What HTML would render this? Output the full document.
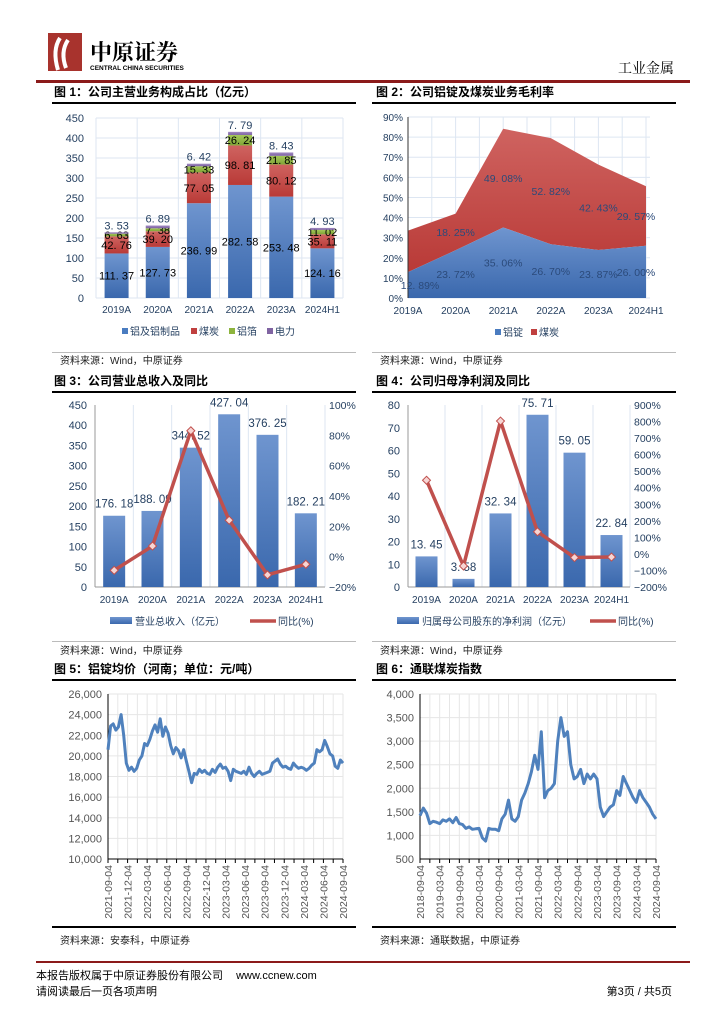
<!DOCTYPE html>
<html><head><meta charset="utf-8"><style>
html,body{margin:0;padding:0;background:#fff}
body{width:724px;height:1024px;position:relative;overflow:hidden;font-family:"Liberation Sans","Noto Sans CJK SC",sans-serif}
svg{position:absolute;left:0;top:0}
</style></head><body>
<svg id="pg" width="724" height="1024" viewBox="0 0 724 1024" xmlns="http://www.w3.org/2000/svg">
<defs>
<linearGradient id="gb" x1="0" y1="0" x2="0" y2="1"><stop offset="0" stop-color="#6f95cf"/><stop offset="1" stop-color="#3a68ad"/></linearGradient>
<linearGradient id="gr" x1="0" y1="0" x2="0" y2="1"><stop offset="0" stop-color="#cf6360"/><stop offset="1" stop-color="#b93a37"/></linearGradient>
<linearGradient id="gg" x1="0" y1="0" x2="0" y2="1"><stop offset="0" stop-color="#a5c85a"/><stop offset="1" stop-color="#7fa535"/></linearGradient>
<linearGradient id="gp" x1="0" y1="0" x2="0" y2="1"><stop offset="0" stop-color="#a48cc4"/><stop offset="1" stop-color="#7a5fa0"/></linearGradient>
</defs>
<g>
<rect x="48" y="33" width="34" height="38" fill="#a8332d"/>
<path d="M60 38 Q52 50 58 70 M68 40 Q60 52 66 68" stroke="#fff" stroke-width="4" fill="none"/>
<text x="90" y="60" font-size="22" font-weight="bold" font-family="'Noto Serif CJK SC',serif">中原证券</text>
<text x="90" y="70" font-size="6.5" font-weight="bold">CENTRAL CHINA SECURITIES</text>
<text x="674" y="73" font-size="14" text-anchor="end" font-family="'Noto Serif CJK SC',serif">工业金属</text>
<rect x="36" y="80" width="654" height="3" fill="#8b1a1a"/>
</g>
<g id="static" font-family="'Liberation Sans','Noto Sans CJK SC',sans-serif"></g>
<g>
<rect x="36" y="961" width="654" height="2" fill="#8b1a1a"/>
<text x="36" y="979" font-size="11">本报告版权属于中原证券股份有限公司 <tspan dx="10">www.ccnew.com</tspan></text>
<text x="36" y="995" font-size="11">请阅读最后一页各项声明</text>
<text x="672" y="995" font-size="11" text-anchor="end">第3页 / 共5页</text>
</g>
</svg>
<script>
var NS='http://www.w3.org/2000/svg',pg=document.getElementById('pg');
function mk(t,a,p){var e=document.createElementNS(NS,t);for(var k in a)e.setAttribute(k,a[k]);(p||pg).appendChild(e);return e;}
function tx(s,x,y,o,p){var e=mk('text',Object.assign({x:x,y:y,'font-size':11,fill:'#333'},o||{}),p);e.textContent=s;return e;}
var el;
var titles=[[54,96,'图 1：公司主营业务构成占比（亿元）'],[376,96,'图 2：公司铝锭及煤炭业务毛利率'],[54,385,'图 3：公司营业总收入及同比'],[376,385,'图 4：公司归母净利润及同比'],[54,673,'图 5：铝锭均价（河南；单位：元/吨）'],[376,673,'图 6：通联煤炭指数']];
titles.forEach(function(t){
el=tx(t[2],t[0],t[1],{'font-size':12,'font-weight':'bold',fill:'#000'});


var x0=t[0]<200?52:372;
el=mk('rect',{x:x0,y:t[1]+6,width:304,height:2,fill:'#000'});


});
var srcs=[[52,352,360,'资料来源：Wind，中原证券'],[372,352,360,'资料来源：Wind，中原证券'],[52,641,650,'资料来源：Wind，中原证券'],[372,641,650,'资料来源：Wind，中原证券'],[52,926,940,'资料来源：安泰科，中原证券'],[372,926,940,'资料来源：通联数据，中原证券']];
srcs.forEach(function(s){
el=mk('rect',{x:s[0],y:s[1],width:304,height:s[1]>900?2:1,fill:s[1]>900?'#000':'#bbb'});


el=tx(s[3],s[0]+8,s[2]+4,{'font-size':10,fill:'#222'});


});
var AX='#243f60';
var c1Cats=['2019A','2020A','2021A','2022A','2023A','2024H1'];
var c1Alu=[111.37,127.73,236.99,282.58,253.48,124.16];
var c1Coal=[42.76,39.20,77.05,98.81,80.12,35.11];
var c1Foil=[6.63,7.38,15.33,26.24,21.85,11.02];
var c1Power=[3.53,6.89,6.42,7.79,8.43,4.93];
var c1Ticks=[0,50,100,150,200,250,300,350,400,450];
(function(){
var L=96,R=343,T=118,B=298,max=450,n=c1Cats.length,w=(R-L)/n;
function y(v){return B-v/max*(B-T);} function cx(i){return L+w*(i+.5);}
c1Ticks.forEach(function(t){el=mk('line',{x1:L,x2:R,y1:y(t),y2:y(t),stroke:'#dde6f2'});
el=tx(t,L-12,y(t)+4,{'text-anchor':'end',fill:AX});});
for(var i=0;i<=n;i++){el=mk('line',{x1:L+w*i,x2:L+w*i,y1:T,y2:B,stroke:'#dde6f2'});}
var ser=[[c1Alu,'url(#gb)','bar-aluminum','#000'],[c1Coal,'url(#gr)','bar-coal','#000'],[c1Foil,'url(#gg)','bar-foil','#000'],[c1Power,'url(#gp)','bar-power',AX]];
c1Cats.forEach(function(c,i){var base=0;
ser.forEach(function(s,k){var v=s[0][i];
el=mk('rect',{x:cx(i)-12,y:y(base+v),width:24,height:y(base)-y(base+v),fill:s[1]});
var ly=k==3?y(base+v)-3:y(base+v/2)+4;
el=tx(v.toFixed(2).replace('.','. '),cx(i),ly,{'text-anchor':'middle',fill:s[3],'font-size':11});
base+=v;});
el=tx(c,cx(i),313,{'text-anchor':'middle',fill:AX,'font-size':10});
});
var lg=[['铝及铝制品','#4a7cc0'],['煤炭','#c0403f'],['铝箔','#8db43e'],['电力','#8064a2']],lx=[122,191,229,267];
lg.forEach(function(g,i){el=mk('rect',{x:lx[i],y:328,width:6,height:6,fill:g[1]});
el=tx(g[0],lx[i]+8,335,{'font-size':10,fill:AX});});
})();
var c2Cats=['2019A','2020A','2021A','2022A','2023A','2024H1'];
var c2Alu=[12.89,23.72,35.06,26.70,23.87,26.00];
var c2Coal=[20.6,18.25,49.08,52.82,42.43,29.57];
var c2Ticks=[0,10,20,30,40,50,60,70,80,90];
(function(){
var L=408,R=646,T=117,B=298,max=90,n=c2Cats.length;
function y(v){return B-v/max*(B-T);} function x(i){return L+i*(R-L)/(n-1);}
c2Ticks.forEach(function(t){el=mk('line',{x1:L,x2:R+4,y1:y(t),y2:y(t),stroke:'#dde6f2'});
el=tx(t+'%',L-5,y(t)+4,{'text-anchor':'end',fill:AX,'font-size':10});});
for(var i=0;i<n*2-1;i++){var gx=L+i*(R-L)/(2*(n-1));el=mk('line',{x1:gx,x2:gx,y1:T,y2:B,stroke:'#dde6f2'});}
var top='',mid='',midR='';
c2Cats.forEach(function(c,i){top+=(i?'L':'M')+x(i)+' '+y(c2Alu[i]+c2Coal[i]);mid+=(i?'L':'M')+x(i)+' '+y(c2Alu[i]);});
for(var j=n-1;j>=0;j--)midR+='L'+x(j)+' '+y(c2Alu[j]);
el=mk('path',{d:top+midR+'Z',fill:'url(#gr)'});
el=mk('path',{d:mid+'L'+R+' '+B+'L'+L+' '+B+'Z',fill:'url(#gb)'});
el=mk('line',{x1:L,x2:L,y1:T,y2:B,stroke:'#333'});
c2Cats.forEach(function(c,i){var xx=i==0?x(i)+12:(i==n-1?x(i)-10:x(i));
el=tx(c2Alu[i].toFixed(2).replace('.','. ')+'%',xx,y(c2Alu[i]/2)+4,{'text-anchor':'middle',fill:'#2b4a7a','font-size':10.5});
if(i>0){el=tx(c2Coal[i].toFixed(2).replace('.','. ')+'%',xx,y(c2Alu[i]+c2Coal[i]/2)+4,{'text-anchor':'middle',fill:'#2b4a7a','font-size':10.5});}
el=tx(c,x(i),314,{'text-anchor':'middle',fill:AX,'font-size':10});});
el=mk('rect',{x:495,y:329,width:6,height:6,fill:'#4a7cc0'});
el=tx('铝锭',503,336,{'font-size':10,fill:AX});
el=mk('rect',{x:531,y:329,width:6,height:6,fill:'#c0403f'});
el=tx('煤炭',539,336,{'font-size':10,fill:AX});
})();
function combo(o){
var L=o.L,R=o.R,T=405,B=587,n=o.cats.length,w=(R-L)/n;
function y(v){return B-(v-o.min)/(o.max-o.min)*(B-T);} function yr(p){return B-(p-o.rmin)/(o.rmax-o.rmin)*(B-T);} function cx(i){return L+w*(i+.5);}
o.ticks.forEach(function(t){el=tx(t,L-8,y(t)+4,{'text-anchor':'end',fill:AX,'font-size':11});});
o.rticks.forEach(function(t){el=tx((t<0?'−':'')+Math.abs(t)+'%',R+4,yr(t)+4,{fill:AX,'font-size':10.5});});
for(var i=0;i<=n;i++){el=mk('line',{x1:L+w*i,x2:L+w*i,y1:T,y2:B,stroke:'#dde6f2'});}
el=mk('line',{x1:L,x2:L,y1:T,y2:B,stroke:'#999'});
el=mk('line',{x1:L,x2:R,y1:B,y2:B,stroke:'#999'});
o.cats.forEach(function(c,i){var v=o.vals[i];
el=mk('rect',{x:cx(i)-11,y:y(v),width:22,height:B-y(v),fill:'url(#gb)'});
el=tx(v.toFixed(2).replace('.','. '),cx(i),y(v)-8,{'text-anchor':'middle',fill:AX,'font-size':11.5});
el=tx(c,cx(i),o.xly,{'text-anchor':'middle',fill:AX,'font-size':10});});
var d='';o.yoy.forEach(function(p,i){d+=(i?'L':'M')+cx(i)+' '+yr(p);});
el=mk('path',{d:d,fill:'none',stroke:'#c0504d','stroke-width':3.5,'stroke-linejoin':'round'});
o.yoy.forEach(function(p,i){el=mk('path',{d:'M'+cx(i)+' '+(yr(p)-4)+'l4 4l-4 4l-4 -4z',fill:'#f7d5d4',stroke:'#c0504d','stroke-width':1});});
el=mk('rect',{x:o.lg[0],y:617,width:22,height:7,fill:'url(#gb)'});
el=tx(o.lgText,o.lg[0]+25,625,{'font-size':10,fill:AX});
el=mk('line',{x1:o.lg[1],x2:o.lg[1]+26,y1:621,y2:621,stroke:'#c0504d','stroke-width':3.5});
el=tx('同比(%)',o.lg[1]+28,625,{'font-size':10,fill:AX});
}
var c3Cats=['2019A','2020A','2021A','2022A','2023A','2024H1'];
var c3Revenue=[176.18,188.09,344.52,427.04,376.25,182.21];
var c3Yoy=[-9,7,83,24,-12,-5];
var c3Ticks=[0,50,100,150,200,250,300,350,400,450];
var c3RTicks=[-20,0,20,40,60,80,100];
combo({L:95,R:325,cats:c3Cats,vals:c3Revenue,yoy:c3Yoy,ticks:c3Ticks,rticks:c3RTicks,min:0,max:450,rmin:-20,rmax:100,xly:603,lg:[110,250],lgText:'营业总收入（亿元）'});
var c4Cats=['2019A','2020A','2021A','2022A','2023A','2024H1'];
var c4Profit=[13.45,3.58,32.34,75.71,59.05,22.84];
var c4Yoy=[445,-73,803,134,-22,-19];
var c4Ticks=[0,10,20,30,40,50,60,70,80];
var c4RTicks=[-200,-100,0,100,200,300,400,500,600,700,800,900];
combo({L:408,R:630,cats:c4Cats,vals:c4Profit,yoy:c4Yoy,ticks:c4Ticks,rticks:c4RTicks,min:0,max:80,rmin:-200,rmax:900,xly:603,lg:[397,590],lgText:'归属母公司股东的净利润（亿元）'});
function ts(o){
var L=o.L,R=o.R,T=694,B=859;
function y(v){return B-(v-o.min)/(o.max-o.min)*(B-T);} function x(i){return L+i*(R-L)/(o.vals.length-1);}
o.ticks.forEach(function(t){el=mk('line',{x1:L,x2:R,y1:y(t),y2:y(t),stroke:'#e6e6e6'});
el=tx(t.toLocaleString('en-US'),L-6,y(t)+4,{'text-anchor':'end',fill:'#555','font-size':11});});
var nl=o.labels.length;
for(var i=0;i<nl*2-1;i++){var gx=L+i*(R-L)/(2*(nl-1));el=mk('line',{x1:gx,x2:gx,y1:T,y2:B,stroke:'#e6e6e6'});
el=mk('line',{x1:gx,x2:gx,y1:B,y2:B+4,stroke:'#000'});}
o.labels.forEach(function(s,i){var lx=L+i*(R-L)/(nl-1);
el=tx(s,0,0,{'text-anchor':'end',fill:'#555','font-size':10.5,transform:'translate('+(lx+4)+','+(B+6)+') rotate(-90)'});});
el=mk('line',{x1:L,x2:L,y1:T,y2:B,stroke:'#000'});
el=mk('line',{x1:L,x2:R,y1:B,y2:B,stroke:'#000'});
var d='';o.vals.forEach(function(v,i){d+=(i?'L':'M')+x(i).toFixed(1)+' '+y(v).toFixed(1);});
el=mk('path',{d:d,fill:'none',stroke:'#4f81bd','stroke-width':3,'stroke-linejoin':'round'});
}
var c5Labels=['2021-09-04','2021-12-04','2022-03-04','2022-06-04','2022-09-04','2022-12-04','2023-03-04','2023-06-04','2023-09-04','2023-12-04','2024-03-04','2024-06-04','2024-09-04'];
var c5Ticks=[10000,12000,14000,16000,18000,20000,22000,24000,26000];
var c5Price=[20600,22900,23100,22500,22800,24000,22000,19300,18600,18900,18500,18800,19600,20000,21200,21000,21600,22400,23000,22300,23600,21900,22800,22200,21000,20200,20800,20500,19800,20600,19500,18500,17400,18300,18200,18700,18400,18600,18300,18200,18700,18400,18900,19200,18800,18900,18500,17600,18700,18500,18400,18300,18500,18200,18900,18300,18000,18300,18500,18200,18300,18400,18500,19300,19500,19700,19200,18900,19000,18800,18700,19300,19000,18800,18900,18800,18600,18800,19100,19300,20600,20400,20600,21500,20900,20200,20000,19000,18800,19600,19300];
ts({L:108,R:343,min:10000,max:26000,ticks:c5Ticks,labels:c5Labels,vals:c5Price,name:'aluminum-price-line'});
var c6Labels=['2018-09-04','2019-03-04','2019-09-04','2020-03-04','2020-09-04','2021-03-04','2021-09-04','2022-03-04','2022-09-04','2023-03-04','2023-09-04','2024-03-04','2024-09-04'];
var c6Ticks=[500,1000,1500,2000,2500,3000,3500,4000];
var c6Index=[1420,1580,1470,1250,1300,1280,1250,1330,1300,1350,1270,1380,1250,1230,1150,1180,1130,1140,1150,950,880,1150,1130,1130,1100,1350,1450,1750,1350,1300,1400,1750,1900,2100,2350,2700,2400,3200,1800,1950,2000,2100,3000,3500,3100,3200,2500,2200,2250,2400,2100,2300,2200,2300,2200,1600,1400,1500,1600,1650,1950,1850,2250,2100,1950,1800,1700,1950,1800,1700,1600,1450,1350];
ts({L:420,R:656,min:500,max:4000,ticks:c6Ticks,labels:c6Labels,vals:c6Index,name:'coal-index-line'});
</script>
</body></html>
